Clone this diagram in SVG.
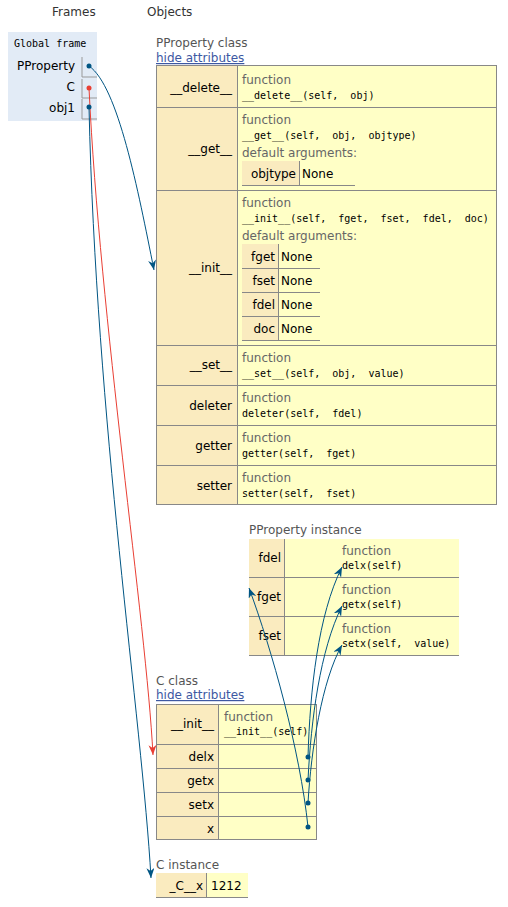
<svg xmlns="http://www.w3.org/2000/svg" width="508" height="907" viewBox="0 0 508 907">
<style>
text{font-family:"DejaVu Sans","Verdana",sans-serif;font-size:12px;fill:#000}
.hdr{fill:#333}
.ttl{fill:#555}
.lnk{fill:#3d58a2;text-decoration:underline}
.fn{fill:#666}
.code{font-family:"DejaVu Sans Mono","Liberation Mono",monospace;font-size:10px;fill:#000;white-space:pre}
.k{text-anchor:end}
.key{fill:#faebbf}
.val{fill:#ffffc6}
.bd{fill:none;stroke:#888;stroke-width:1}
.ln{stroke:#888;stroke-width:1}
.ln2{stroke:#999;stroke-width:1}
.blue{fill:none;stroke:#005583;stroke-width:1}
.red{fill:none;stroke:#e93f34;stroke-width:1}
.dotb{fill:#005583}
.dotr{fill:#e93f34}
</style>
<defs>
<marker id="ab" markerUnits="userSpaceOnUse" markerWidth="10" markerHeight="8" refX="10" refY="4" orient="auto"><path d="M0,0 L10,4 L0,8 L3,4 z" fill="#005583"/></marker>
<marker id="ar" markerUnits="userSpaceOnUse" markerWidth="10" markerHeight="8" refX="10" refY="4" orient="auto"><path d="M0,0 L10,4 L0,8 L3,4 z" fill="#e93f34"/></marker>
</defs>
<rect width="508" height="907" fill="#fff"/>
<text class="hdr" x="52" y="16">Frames</text>
<text class="hdr" x="147" y="16">Objects</text>

<g id="global-frame">
<rect x="8" y="32" width="89" height="89" fill="#e2ebf6"/>
<text class="code" x="14" y="47">Global frame</text>
<text class="k" x="75" y="70">PProperty</text>
<text class="k" x="75" y="91">C</text>
<text class="k" x="75" y="112">obj1</text>
<path class="ln2" d="M82,57 V77 H97 M82,79 V98 H97 M82,99 V119 H97" fill="none"/>
</g>

<g id="pproperty-class">
<text class="ttl" x="156" y="47">PProperty class</text>
<text class="lnk" x="156" y="62">hide attributes</text>
<rect class="key" x="156" y="65" width="81" height="440"/>
<rect class="val" x="237" y="65" width="260" height="440"/>
<rect class="bd" x="156.5" y="65.5" width="340" height="439"/>
<path class="ln" d="M237.5,65 V505 M156,107.5 H497 M156,190.5 H497 M156,345.5 H497 M156,385.5 H497 M156,425.5 H497 M156,465.5 H497"/>
<text class="k" x="232" y="92">__delete__</text>
<text class="fn" x="242" y="84">function</text>
<text class="code" x="242" y="99" xml:space="preserve">__delete__(self,  obj)</text>
<text class="k" x="232" y="153">__get__</text>
<text class="fn" x="242" y="124">function</text>
<text class="code" x="242" y="139" xml:space="preserve">__get__(self,  obj,  objtype)</text>
<text class="fn" x="242" y="157">default arguments:</text>
<rect class="key" x="242" y="161" width="57" height="24"/>
<path class="ln" d="M299.5,161 V185 M242,185.5 H355"/>
<text class="k" x="296" y="178">objtype</text>
<text x="302" y="178">None</text>
<text class="k" x="232" y="272">__init__</text>
<text class="fn" x="242" y="207">function</text>
<text class="code" x="242" y="222" xml:space="preserve">__init__(self,  fget,  fset,  fdel,  doc)</text>
<text class="fn" x="242" y="240">default arguments:</text>
<rect class="key" x="242" y="244" width="36" height="96"/>
<path class="ln" d="M278.5,244 V340 M242,268.5 H320 M242,292.5 H320 M242,316.5 H320 M242,340.5 H320"/>
<text class="k" x="275" y="261">fget</text><text x="281" y="261">None</text>
<text class="k" x="275" y="285">fset</text><text x="281" y="285">None</text>
<text class="k" x="275" y="309">fdel</text><text x="281" y="309">None</text>
<text class="k" x="275" y="333">doc</text><text x="281" y="333">None</text>
<text class="k" x="232" y="369">__set__</text>
<text class="fn" x="242" y="362">function</text>
<text class="code" x="242" y="377" xml:space="preserve">__set__(self,  obj,  value)</text>
<text class="k" x="232" y="410">deleter</text>
<text class="fn" x="242" y="402">function</text>
<text class="code" x="242" y="417" xml:space="preserve">deleter(self,  fdel)</text>
<text class="k" x="232" y="450">getter</text>
<text class="fn" x="242" y="442">function</text>
<text class="code" x="242" y="457" xml:space="preserve">getter(self,  fget)</text>
<text class="k" x="232" y="490">setter</text>
<text class="fn" x="242" y="482">function</text>
<text class="code" x="242" y="497" xml:space="preserve">setter(self,  fset)</text>
</g>

<g id="pproperty-instance">
<text class="ttl" x="249" y="534">PProperty instance</text>
<rect class="key" x="249" y="539" width="35" height="117"/>
<rect class="val" x="284" y="539" width="175" height="117"/>
<path class="ln" d="M284.5,539 V656 M249,577.5 H459 M249,616.5 H459 M249,655.5 H459"/>
<text class="k" x="281" y="562">fdel</text>
<text class="k" x="281" y="601">fget</text>
<text class="k" x="281" y="640">fset</text>
<text class="fn" x="342" y="555">function</text>
<text class="code" x="342" y="569">delx(self)</text>
<text class="fn" x="342" y="594">function</text>
<text class="code" x="342" y="608">getx(self)</text>
<text class="fn" x="342" y="633">function</text>
<text class="code" x="342" y="647" xml:space="preserve">setx(self,  value)</text>
</g>

<g id="c-class">
<text class="ttl" x="156" y="685">C class</text>
<text class="lnk" x="156" y="699">hide attributes</text>
<rect class="key" x="156" y="704" width="62" height="136"/>
<rect class="val" x="218" y="704" width="99" height="136"/>
<rect class="bd" x="156.5" y="704.5" width="160" height="135"/>
<path class="ln" d="M218.5,704 V840 M156,744.5 H317 M156,768.5 H317 M156,792.5 H317 M156,816.5 H317"/>
<text class="k" x="214" y="728">__init__</text>
<text class="fn" x="224" y="721">function</text>
<text class="code" x="224" y="735">__init__(self)</text>
<text class="k" x="214" y="761">delx</text>
<text class="k" x="214" y="785">getx</text>
<text class="k" x="214" y="809">setx</text>
<text class="k" x="214" y="833">x</text>
</g>

<g id="c-instance">
<text class="ttl" x="156" y="869">C instance</text>
<rect class="key" x="156" y="873" width="50" height="24"/>
<rect class="val" x="206" y="873" width="42" height="24"/>
<path class="ln" d="M206.5,873 V897 M156,897.5 H248"/>
<text class="k" x="203" y="890">_C__x</text>
<text x="211" y="890">1212</text>
</g>

<g id="connectors">
<path class="blue" d="M89,66 C118,86 138,190 154,270" marker-end="url(#ab)"/>
<path class="red" d="M89,88 C100,320 146,620 153,755" marker-end="url(#ar)"/>
<path class="blue" d="M89,107 C96,420 142,720 151,878" marker-end="url(#ab)"/>
<path class="blue" d="M308,757 C310,690 318,615 342,567" marker-end="url(#ab)"/>
<path class="blue" d="M308,780 C311,720 320,650 342,606" marker-end="url(#ab)"/>
<path class="blue" d="M308,803 C311,750 322,680 342,645" marker-end="url(#ab)"/>
<path class="blue" d="M308,827 C300,750 272,650 249,588" marker-end="url(#ab)"/>
<circle class="dotb" cx="89" cy="66" r="2.5"/>
<circle class="dotr" cx="89" cy="88" r="2.5"/>
<circle class="dotb" cx="89" cy="107" r="2.5"/>
<circle class="dotb" cx="308" cy="757" r="2.5"/>
<circle class="dotb" cx="308" cy="780" r="2.5"/>
<circle class="dotb" cx="308" cy="803" r="2.5"/>
<circle class="dotb" cx="308" cy="827" r="2.5"/>
</g>
</svg>
